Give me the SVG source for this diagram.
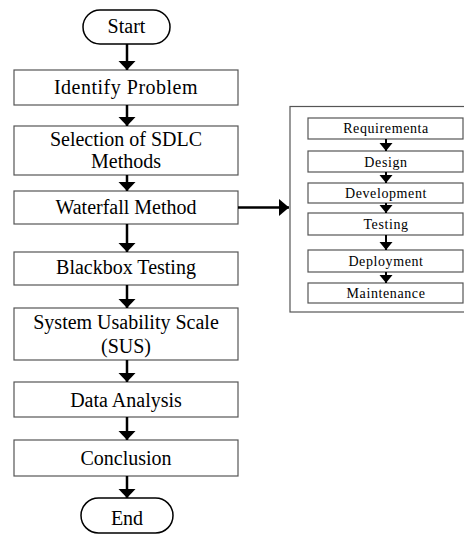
<svg xmlns="http://www.w3.org/2000/svg" width="464" height="534" viewBox="0 0 464 534">
<style>
.box{fill:#fff;stroke:#555;stroke-width:1.2}
.pill{fill:#fff;stroke:#000;stroke-width:1.5}
text{font-family:'Liberation Serif','Times New Roman',Times,serif;fill:#000;text-anchor:middle}
.t{font-size:20px}
.s{font-size:14px;letter-spacing:0.6px}
.c{stroke:#000;stroke-width:2.5;fill:none}
.ci{stroke:#000;stroke-width:2;fill:none}
</style>
<defs>
<marker id="ah" markerUnits="userSpaceOnUse" markerWidth="10" markerHeight="18" refX="9" refY="9" orient="auto" viewBox="0 0 10 18">
<path d="M0,0.5 L9,9 L0,17.5 Z" fill="#000"/>
</marker>
<marker id="ahs" markerUnits="userSpaceOnUse" markerWidth="9" markerHeight="14" refX="8" refY="7" orient="auto" viewBox="0 0 9 14">
<path d="M0,0.5 L8,7 L0,13.5 Z" fill="#000"/>
</marker>
<marker id="ahr" markerUnits="userSpaceOnUse" markerWidth="10" markerHeight="18" refX="10" refY="9" orient="auto" viewBox="0 0 10 18">
<path d="M0,0.5 L10,9 L0,17.5 Z" fill="#000"/>
</marker>
</defs>

<g id="start"><rect class="pill" x="83" y="10" width="87" height="34" rx="17"/><text class="t" x="126.5" y="33" font-family="Liberation Serif">Start</text></g>
<g id="identify"><rect class="box" x="14" y="70" width="224" height="35"/><text class="t" x="126" y="94" letter-spacing="0.5" font-family="Liberation Serif">Identify Problem</text></g>
<g id="selection"><rect class="box" x="14" y="126" width="224" height="49"/><text class="t" x="126" y="146" font-family="Liberation Serif">Selection of SDLC</text><text class="t" x="126" y="168" font-family="Liberation Serif">Methods</text></g>
<g id="waterfall"><rect class="box" x="14" y="191" width="224" height="33"/><text class="t" x="126" y="214" font-family="Liberation Serif">Waterfall Method</text></g>
<g id="blackbox"><rect class="box" x="14" y="252" width="224" height="33"/><text class="t" x="126" y="274" font-family="Liberation Serif">Blackbox Testing</text></g>
<g id="sus"><rect class="box" x="14" y="308" width="224" height="52"/><text class="t" x="126" y="329" font-family="Liberation Serif">System Usability Scale</text><text class="t" x="126" y="353" font-family="Liberation Serif">(SUS)</text></g>
<g id="analysis"><rect class="box" x="14" y="382" width="224" height="35"/><text class="t" x="126" y="407" font-family="Liberation Serif">Data Analysis</text></g>
<g id="conclusion"><rect class="box" x="14" y="440" width="224" height="36"/><text class="t" x="126" y="465" font-family="Liberation Serif">Conclusion</text></g>
<g id="end"><rect class="pill" x="81" y="498" width="92" height="35" rx="17.5"/><text class="t" x="127" y="525" font-family="Liberation Serif">End</text></g>

<g id="waterfall-detail">
<rect class="box" x="290" y="106.5" width="180" height="205.5"/>
<g id="requirementa"><rect class="box" x="308" y="118" width="155" height="21"/><text class="s" x="386" y="133">Requirementa</text></g>
<g id="design"><rect class="box" x="308" y="151" width="155" height="21"/><text class="s" x="386" y="167">Design</text></g>
<g id="development"><rect class="box" x="308" y="183" width="155" height="20"/><text class="s" x="386" y="198">Development</text></g>
<g id="testing"><rect class="box" x="308" y="213" width="155" height="22"/><text class="s" x="386" y="229">Testing</text></g>
<g id="deployment"><rect class="box" x="308" y="250" width="155" height="22"/><text class="s" x="386" y="266">Deployment</text></g>
<g id="maintenance"><rect class="box" x="308" y="283" width="155" height="20"/><text class="s" x="386" y="298">Maintenance</text></g>
</g>

<g id="connectors">
<line class="c" x1="127" y1="44" x2="127" y2="70" marker-end="url(#ah)"/>
<line class="c" x1="127" y1="105" x2="127" y2="126" marker-end="url(#ah)"/>
<line class="c" x1="127" y1="175" x2="127" y2="191" marker-end="url(#ah)"/>
<line class="c" x1="127" y1="224" x2="127" y2="252" marker-end="url(#ah)"/>
<line class="c" x1="127" y1="285" x2="127" y2="308" marker-end="url(#ah)"/>
<line class="c" x1="127" y1="360" x2="127" y2="382" marker-end="url(#ah)"/>
<line class="c" x1="127" y1="417" x2="127" y2="440" marker-end="url(#ah)"/>
<line class="c" x1="127" y1="476" x2="127" y2="498" marker-end="url(#ah)"/>
<line class="c" x1="238" y1="207.5" x2="289" y2="207.5" marker-end="url(#ahr)"/>
<line class="ci" x1="386" y1="139" x2="386" y2="151" marker-end="url(#ahs)"/>
<line class="ci" x1="386" y1="172" x2="386" y2="183" marker-end="url(#ahs)"/>
<line class="ci" x1="386" y1="203" x2="386" y2="213" marker-end="url(#ahs)"/>
<line class="ci" x1="386" y1="235" x2="386" y2="250" marker-end="url(#ahs)"/>
<line class="ci" x1="386" y1="272" x2="386" y2="283" marker-end="url(#ahs)"/>
</g>
</svg>
